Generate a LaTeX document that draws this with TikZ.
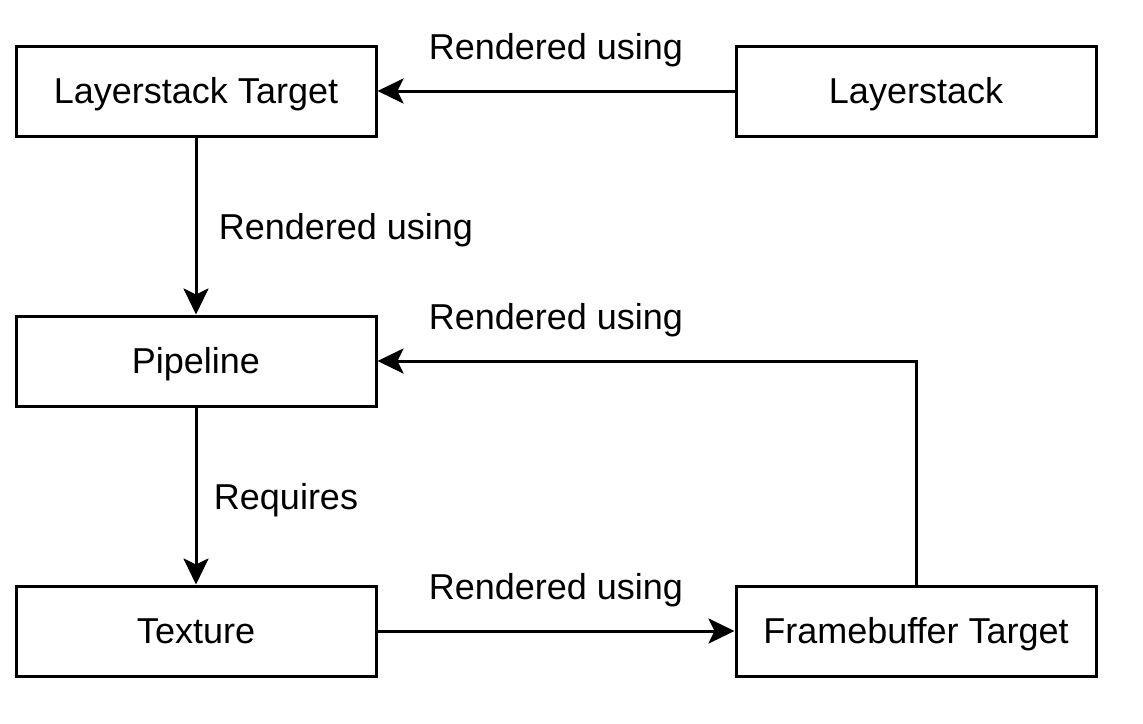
\documentclass[tikz,border=0pt]{standalone}
\usepackage{fontspec}
\setmainfont{Liberation Sans}
\usetikzlibrary{arrows.meta}
\begin{document}
\begin{tikzpicture}[x=0.5pt,y=-0.5pt,
  txt/.style={font=\fontsize{18}{21}\selectfont,text height=12.9pt,text depth=0pt},
  box/.style={txt,draw,line width=1.5pt,minimum width=180pt,minimum height=45pt,inner sep=0pt},
  lbl/.style={txt,inner sep=0pt},
  conn/.style={line width=1.5pt,-{Stealth[length=13pt,width=12.5pt,inset=3pt]}}]
\useasboundingbox (0,0) rectangle (1143,723);
\node[box] (lt) at (196,91) {Layerstack Target};
\node[box] (ls) at (916,91) {Layerstack};
\node[box] (pl) at (196,361) {Pipeline};
\node[box] (tx) at (196,631) {Texture};
\node[box] (fb) at (916,631) {Framebuffer Target};
\coordinate (corner) at (916,361);
\draw[conn] (ls) -- (lt);
\draw[conn] (lt) -- (pl);
\draw[conn] (pl) -- (tx);
\draw[conn] (tx) -- (fb);
\draw[conn] (fb.north) -- (corner) -- (pl.east);
\node[lbl] (l1) at (556,47) {Rendered using};
\node[lbl] (l2) at (346,227) {Rendered using};
\node[lbl] (l3) at (556,317) {Rendered using};
\node[lbl] (l4) at (286,497) {Requires};
\node[lbl] (l5) at (556,587) {Rendered using};
\end{tikzpicture}
\end{document}
